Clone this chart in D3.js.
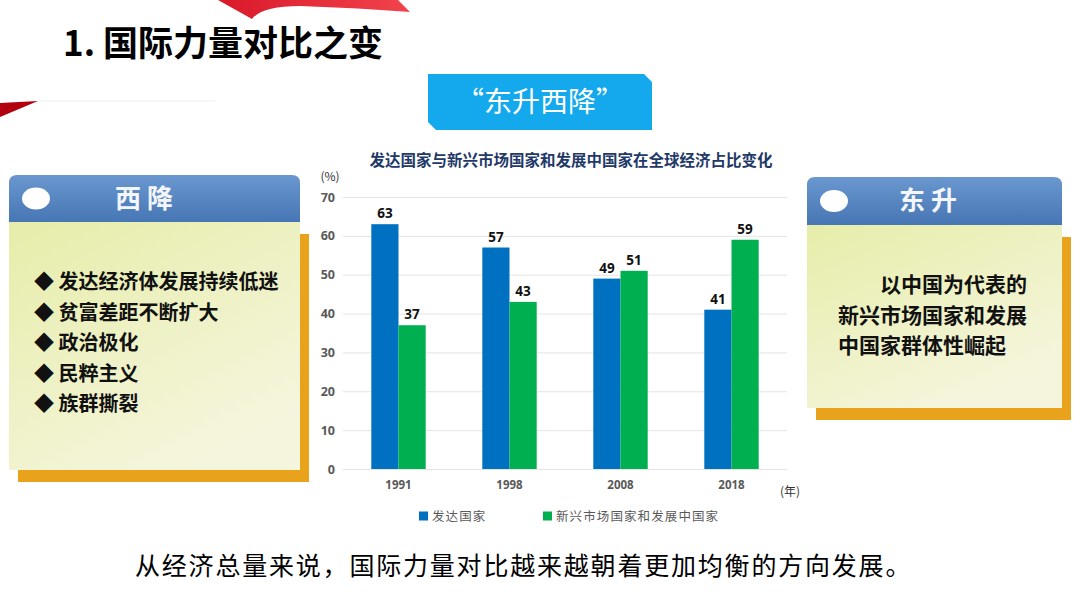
<!DOCTYPE html>
<html>
<head>
<meta charset="utf-8">
<script src="https://cdn.jsdelivr.net/npm/d3@7"></script>
<style>
  html, body { margin: 0; padding: 0; background: #fff; }
  svg { display: block; font-family: "Noto Sans CJK SC", "Noto Sans", sans-serif; }
</style>
</head>
<body>
<div id="slide"></div>
<script>
// chart data
const years = ["1991", "1998", "2008", "2018"];
const developed = [63, 57, 49, 41];
const emerging = [37, 43, 51, 59];
const yTicks = [0, 10, 20, 30, 40, 50, 60, 70];
const seriesNames = ["发达国家", "新兴市场国家和发展中国家"];
const seriesColors = ["#0070c0", "#00b050"];

// slide texts
const slideTitle = "1. 国际力量对比之变";
const badgeText = "“东升西降”";
const chartTitle = "发达国家与新兴市场国家和发展中国家在全球经济占比变化";
const westHead = "西 降";
const westPoints = ["发达经济体发展持续低迷", "贫富差距不断扩大", "政治极化", "民粹主义", "族群撕裂"];
const eastHead = "东 升";
const eastLines = ["以中国为代表的", "新兴市场国家和发展", "中国家群体性崛起"];
const footer = "从经济总量来说，国际力量对比越来越朝着更加均衡的方向发展。";

(() => {
  const W = 1080, H = 608;
  const svg = d3.select("#slide").append("svg")
      .attr("width", W).attr("height", H);

  const defs = svg.append("defs");
  const headGrad = defs.append("linearGradient").attr("id", "headGrad")
      .attr("x1", 0).attr("y1", 0).attr("x2", 0).attr("y2", 1);
  headGrad.append("stop").attr("offset", "0%").attr("stop-color", "#6a97cf");
  headGrad.append("stop").attr("offset", "100%").attr("stop-color", "#4676b4");

  const bodyGrad = defs.append("linearGradient").attr("id", "bodyGrad")
      .attr("x1", 0).attr("y1", 0).attr("x2", 0.6).attr("y2", 1);
  bodyGrad.append("stop").attr("offset", "0%").attr("stop-color", "#e6eda9");
  bodyGrad.append("stop").attr("offset", "100%").attr("stop-color", "#f5f5dd");

  const redGrad = defs.append("linearGradient").attr("id", "redGrad")
      .attr("x1", 0).attr("y1", 0).attr("x2", 1).attr("y2", 0);
  redGrad.append("stop").attr("offset", "0%").attr("stop-color", "#d9192a");
  redGrad.append("stop").attr("offset", "100%").attr("stop-color", "#f2434c");

  // decorative red swoosh at top and left
  svg.append("path")
      .attr("d", "M218,0 L252,19 Q262,6 300,6 Q360,8 410,12 L398,0 Z")
      .attr("fill", "url(#redGrad)");
  svg.append("path")
      .attr("d", "M0,103 L38,101 L0,117 Z")
      .attr("fill", "#b3000f");
  svg.append("line")
      .attr("x1", 38).attr("x2", 215).attr("y1", 101).attr("y2", 101)
      .attr("stroke", "#eeeeee").attr("stroke-width", 1);

  svg.append("text")
      .attr("x", 63).attr("y", 56)
      .attr("font-size", 35).attr("font-weight", "bold").attr("fill", "#000")
      .text(slideTitle);

  // badge with chamfered corners
  svg.append("path")
      .attr("d", "M428,74 L644,74 L652,82 L652,130 L436,130 L428,122 Z")
      .attr("fill", "#14a9ec");
  svg.append("text")
      .attr("x", 540).attr("y", 112)
      .attr("text-anchor", "middle")
      .attr("font-size", 28).attr("fill", "#fff")
      .text(badgeText);

  // side panels
  const panel = (x, y, w, headH, bodyH, head, headX) => {
    const g = svg.append("g");
    g.append("rect")
        .attr("x", x + 9).attr("y", y + headH + 12)
        .attr("width", w).attr("height", bodyH)
        .attr("fill", "#e8a21c");
    g.append("rect")
        .attr("x", x).attr("y", y + headH - 2)
        .attr("width", w).attr("height", bodyH + 2)
        .attr("fill", "url(#bodyGrad)");
    g.append("path")
        .attr("d", `M${x},${y + headH} L${x},${y + 8} Q${x},${y} ${x + 8},${y}
                    L${x + w - 8},${y} Q${x + w},${y} ${x + w},${y + 8} L${x + w},${y + headH} Z`)
        .attr("fill", "url(#headGrad)");
    g.append("ellipse")
        .attr("cx", x + 27).attr("cy", y + headH / 2)
        .attr("rx", 14).attr("ry", 11)
        .attr("fill", "#fff");
    g.append("text")
        .attr("x", headX).attr("y", y + headH / 2 + 9)
        .attr("text-anchor", "middle")
        .attr("font-size", 26).attr("font-weight", "bold").attr("fill", "#f4f6fb")
        .text(head);
    return g;
  };

  const west = panel(9, 175, 291, 47, 248, westHead, 144);
  west.selectAll("text.pt")
      .data(westPoints)
      .enter()
      .append("text")
      .attr("class", "pt")
      .attr("x", 34)
      .attr("y", (d, i) => 289 + i * 30.5)
      .attr("font-size", 20).attr("font-weight", "bold").attr("fill", "#111")
      .text(d => "◆ " + d);

  const east = panel(807, 177, 255, 48, 183, eastHead, 928);
  east.selectAll("text.ln")
      .data(eastLines)
      .enter()
      .append("text")
      .attr("class", "ln")
      .attr("x", (d, i) => i === 0 ? 880 : 838)
      .attr("y", (d, i) => 292 + i * 30.5)
      .attr("font-size", 21).attr("font-weight", "bold").attr("fill", "#111")
      .text(d => d);

  // bar chart
  const left = 343, right = 787, top = 197, bottom = 469;

  const x0 = d3.scaleBand()
      .domain(years)
      .range([left, right])
      .paddingInner(0.51)
      .paddingOuter(0.255);

  const x1 = d3.scaleBand()
      .domain([0, 1])
      .range([0, x0.bandwidth()]);

  const y = d3.scaleLinear()
      .domain([0, 70])
      .range([bottom, top]);

  const chart = svg.append("g");

  const gy = chart.append("g")
      .attr("transform", `translate(${left},0)`)
      .call(d3.axisLeft(y).tickValues(yTicks).tickSize(-(right - left)).tickPadding(8));
  gy.select(".domain").remove();
  gy.selectAll(".tick line").attr("stroke", "#e4e4e4");
  gy.selectAll(".tick text")
      .attr("font-size", 12.5).attr("font-weight", "bold").attr("fill", "#595959")
      .attr("font-family", "\"Open Sans\", sans-serif");

  const gx = chart.append("g")
      .attr("transform", `translate(0,${bottom})`)
      .call(d3.axisBottom(x0).tickSize(0).tickPadding(12));
  gx.select(".domain").remove();
  gx.selectAll(".tick text")
      .attr("font-size", 11.5).attr("font-weight", "bold").attr("fill", "#595959")
      .attr("font-family", "\"Open Sans\", sans-serif");

  const rows = years.map((yr, i) => ({ year: yr, vals: [developed[i], emerging[i]] }));

  const groups = chart.selectAll("g.grp")
      .data(rows)
      .enter()
      .append("g")
      .attr("class", "grp")
      .attr("transform", d => `translate(${x0(d.year)},0)`);

  groups.selectAll("rect")
      .data(d => d.vals)
      .enter()
      .append("rect")
      .attr("x", (d, i) => x1(i))
      .attr("width", x1.bandwidth())
      .attr("y", d => y(d))
      .attr("height", d => bottom - y(d))
      .attr("fill", (d, i) => seriesColors[i]);

  groups.selectAll("text.val")
      .data(d => d.vals)
      .enter()
      .append("text")
      .attr("class", "val")
      .attr("x", (d, i) => x1(i) + x1.bandwidth() / 2)
      .attr("y", d => y(d) - 6)
      .attr("text-anchor", "middle")
      .attr("font-size", 13.5).attr("font-weight", "bold").attr("fill", "#111")
      .attr("font-family", "\"Open Sans\", sans-serif")
      .text(d => d);

  chart.append("text")
      .attr("x", 571).attr("y", 166)
      .attr("text-anchor", "middle")
      .attr("font-size", 15.5).attr("font-weight", "bold").attr("fill", "#1f3a68")
      .text(chartTitle);

  chart.append("text")
      .attr("x", 330).attr("y", 181)
      .attr("text-anchor", "middle")
      .attr("font-size", 12).attr("fill", "#333")
      .text("(%)");

  chart.append("text")
      .attr("x", 790).attr("y", 496)
      .attr("text-anchor", "middle")
      .attr("font-size", 12).attr("fill", "#333")
      .text("(年)");

  // legend
  const legX = [419, 543];
  const leg = chart.selectAll("g.leg")
      .data(seriesNames)
      .enter()
      .append("g")
      .attr("class", "leg")
      .attr("transform", (d, i) => `translate(${legX[i]},516)`);
  leg.append("rect")
      .attr("x", 0).attr("y", -4.5)
      .attr("width", 9).attr("height", 9)
      .attr("fill", (d, i) => seriesColors[i]);
  leg.append("text")
      .attr("x", 13).attr("y", 4.5)
      .attr("font-size", 12.5).attr("fill", "#595959")
      .attr("letter-spacing", 1.1)
      .text(d => d);

  svg.append("text")
      .attr("x", 135).attr("y", 575)
      .attr("font-size", 25).attr("fill", "#000")
      .attr("letter-spacing", 1.8)
      .text(footer);
})();
</script>
</body>
</html>
